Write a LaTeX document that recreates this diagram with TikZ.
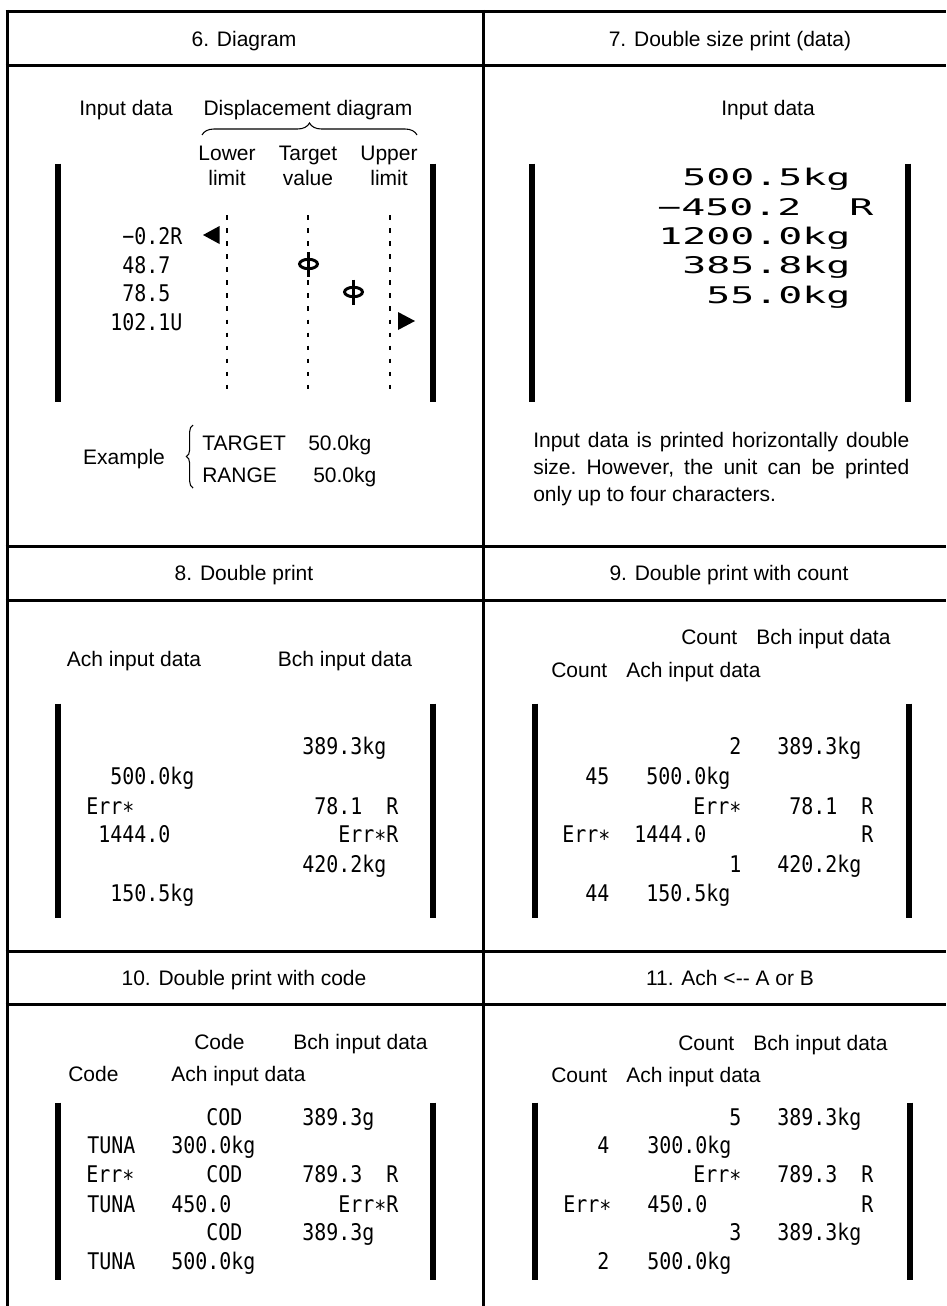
\documentclass[tikz,border=0pt]{standalone}
\usepackage{fontspec}
\setmainfont{Liberation Sans}
\newfontfamily\prtface[FakeStretch=0.87]{DejaVu Sans Mono}
\newfontfamily\wideface[FakeStretch=1.74]{DejaVu Sans Mono}
\newcommand\lblsize{\fontsize{15.75pt}{18.75pt}\selectfont}
\newcommand\notesize{\fontsize{15.75pt}{19.9pt}\selectfont\frenchspacing}
\newcommand\prtsize{\prtface\fontsize{17.2pt}{20pt}\selectfont}
\newcommand\widesize{\wideface\fontsize{17.2pt}{20pt}\selectfont}
\newcommand\cellgap{\hphantom{0}}
\usetikzlibrary{decorations.pathreplacing}

\begin{document}
\begin{tikzpicture}[
    x=0.75pt, y=-0.75pt,
    frame/.style={line width=2.25pt},
    bar/.style={line width=4.5pt},
    lbl/.style={font=\lblsize, inner sep=0pt, text height=11.3pt, text depth=0pt},
    note/.style={font=\notesize, inner sep=0pt, text width=282pt, align=justify},
    prt/.style={font=\prtsize, inner sep=0pt, text height=12.4pt, text depth=0pt, anchor=west},
    wide/.style={prt, font=\widesize},
    guide/.style={line width=1pt, dash pattern=on 3.4pt off 6.4pt},
    brc/.style={decorate, decoration={brace, amplitude=#1}, line width=0.8pt},
    phi/.style={line width=2.2pt}
]
    \useasboundingbox (0,0) rectangle (946,1306);

    % table frame
    \draw[frame] (5.5,11.5) -- (946,11.5);
    \draw[frame] (5.5,65.5) -- (946,65.5);
    \draw[frame] (5.5,546.5) -- (946,546.5);
    \draw[frame] (5.5,600) -- (946,600);
    \draw[frame] (5.5,951) -- (946,951);
    \draw[frame] (5.5,1004) -- (946,1004);
    \draw[frame] (7,10) -- (7,1306);
    \draw[frame] (483,10) -- (483,1306);

    % headers
    \node[lbl] (h6)  at (244,39)  {6. Diagram};
    \node[lbl] (h7)  at (730,39)  {7. Double size print (data)};
    \node[lbl] (h8)  at (244,573) {8. Double print};
    \node[lbl] (h9)  at (729,573) {9. Double print with count};
    \node[lbl] (h10) at (244,978) {10. Double print with code};
    \node[lbl] (h11) at (730,978) {11. Ach <-{}- A or B};

    % 6. Diagram
    \node[lbl] (in6)   at (126,108) {Input data};
    \node[lbl] (disp)  at (308,108) {Displacement diagram};
    \draw[brc=9pt] (202,135) -- (417,135);
    \node[lbl] (lowA)  at (227,153) {Lower};
    \node[lbl] (lowB)  at (227,178) {limit};
    \node[lbl] (tgtA)  at (308,153) {Target};
    \node[lbl] (tgtB)  at (308,178) {value};
    \node[lbl] (upA)   at (389,153) {Upper};
    \node[lbl] (upB)   at (389,178) {limit};
    \draw[bar] (58,163.5) -- (58,401.5);
    \draw[bar] (433,163.5) -- (433,401.5);
    \draw[guide] (227,215) -- (227,393);
    \draw[guide] (308,215) -- (308,393);
    \draw[guide] (390,215) -- (390,393);
    \node[prt] (d1) at (122,236) {−0.2R};
    \node[prt] (d2) at (122,265) {48.7};
    \node[prt] (d3) at (122,293) {78.5};
    \node[prt] (d4) at (110,322) {102.1U};
    \fill (203,235) -- (219.5,226) -- (219.5,244) -- cycle;
    \fill (415,321) -- (398,312) -- (398,330) -- cycle;
    \draw[phi] (308.5,264) ellipse [x radius=9, y radius=4.7];
    \draw[phi, line width=2.6pt] (308.5,252) -- (308.5,277);
    \draw[phi] (353.5,292) ellipse [x radius=9, y radius=4.7];
    \draw[phi, line width=2.6pt] (353.5,279.5) -- (353.5,304.5);
    \node[lbl] (ex) at (124,457) {Example};
    \draw[brc=5pt] (193,488) -- (193,425);
    \node[lbl, anchor=west] (tgt)  at (202,443) {TARGET};
    \node[lbl, anchor=west] (tgtv) at (308,443) {50.0kg};
    \node[lbl, anchor=west] (rng)  at (202,475) {RANGE};
    \node[lbl, anchor=west] (rngv) at (313,475) {50.0kg};

    % 7. Double size print (data)
    \node[lbl] (in7) at (768,108) {Input data};
    \draw[bar] (532,163.5) -- (532,401.5);
    \draw[bar] (908,163.5) -- (908,401.5);
    \node[wide] (w1) at (682,177) {500.5kg};
    \node[wide] (w2) at (657,207) {−450.2\cellgap\cellgap R};
    \node[wide] (w3) at (658,236) {1200.0kg};
    \node[wide] (w4) at (682,265) {385.8kg};
    \node[wide] (w5) at (706,295) {55.0kg};
    \node[note, anchor=north west] (txt7) at (533,432.5)
        {Input data is printed horizontally double\linebreak size. However, the unit can be printed\linebreak only up to four characters.};

    % 8. Double print
    \node[lbl] (ach8) at (134,659) {Ach input data};
    \node[lbl] (bch8) at (345,659) {Bch input data};
    \draw[bar] (58,703.5) -- (58,917.5);
    \draw[bar] (433,703.5) -- (433,917.5);
    \node[prt] (a8r1) at (302,746) {389.3kg};
    \node[prt] (a8r2) at (110,776) {500.0kg};
    \node[prt] (a8r3) at (86,806)  {Err∗};
    \node[prt] (b8r3) at (314,806) {78.1\cellgap\cellgap R};
    \node[prt] (a8r4) at (98,834)  {1444.0};
    \node[prt] (b8r4) at (338,834) {Err∗R};
    \node[prt] (b8r5) at (302,864) {420.2kg};
    \node[prt] (a8r6) at (110,893) {150.5kg};

    % 9. Double print with count
    \node[lbl, anchor=west] (cnt9b) at (681,637) {Count};
    \node[lbl, anchor=west] (bch9)  at (756,637) {Bch input data};
    \node[lbl, anchor=west] (cnt9a) at (551,670) {Count};
    \node[lbl, anchor=west] (ach9)  at (626,670) {Ach input data};
    \draw[bar] (535,703.5) -- (535,917.5);
    \draw[bar] (909,703.5) -- (909,917.5);
    \node[prt] (c9r1) at (729,746) {2};
    \node[prt] (b9r1) at (777,746) {389.3kg};
    \node[prt] (c9r2) at (585,776) {45};
    \node[prt] (a9r2) at (646,776) {500.0kg};
    \node[prt] (c9r3) at (693,806) {Err∗};
    \node[prt] (b9r3) at (789,806) {78.1\cellgap\cellgap R};
    \node[prt] (c9r4) at (562,834) {Err∗};
    \node[prt] (a9r4) at (634,834) {1444.0};
    \node[prt] (b9r4) at (861,834) {R};
    \node[prt] (c9r5) at (729,864) {1};
    \node[prt] (b9r5) at (777,864) {420.2kg};
    \node[prt] (c9r6) at (585,893) {44};
    \node[prt] (a9r6) at (646,893) {150.5kg};

    % 10. Double print with code
    \node[lbl, anchor=west] (cod10b) at (194,1042) {Code};
    \node[lbl, anchor=west] (bch10)  at (293,1042) {Bch input data};
    \node[lbl, anchor=west] (cod10a) at (68,1074)  {Code};
    \node[lbl, anchor=west] (ach10)  at (171,1074) {Ach input data};
    \draw[bar] (58,1102.5) -- (58,1280);
    \draw[bar] (433,1102.5) -- (433,1280);
    \node[prt] (k10r1) at (206,1117) {COD};
    \node[prt] (b10r1) at (302,1117) {389.3g};
    \node[prt] (k10r2) at (87,1145)  {TUNA};
    \node[prt] (a10r2) at (171,1145) {300.0kg};
    \node[prt] (k10r3) at (86,1174)  {Err∗};
    \node[prt] (j10r3) at (206,1174) {COD};
    \node[prt] (b10r3) at (302,1174) {789.3\cellgap\cellgap R};
    \node[prt] (k10r4) at (87,1204)  {TUNA};
    \node[prt] (a10r4) at (171,1204) {450.0};
    \node[prt] (b10r4) at (338,1204) {Err∗R};
    \node[prt] (k10r5) at (206,1232) {COD};
    \node[prt] (b10r5) at (302,1232) {389.3g};
    \node[prt] (k10r6) at (87,1261)  {TUNA};
    \node[prt] (a10r6) at (171,1261) {500.0kg};

    % 11. Ach <-- A or B
    \node[lbl, anchor=west] (cnt11b) at (678,1043) {Count};
    \node[lbl, anchor=west] (bch11)  at (753,1043) {Bch input data};
    \node[lbl, anchor=west] (cnt11a) at (551,1075) {Count};
    \node[lbl, anchor=west] (ach11)  at (626,1075) {Ach input data};
    \draw[bar] (535,1102.5) -- (535,1280);
    \draw[bar] (910,1102.5) -- (910,1280);
    \node[prt] (c11r1) at (729,1117) {5};
    \node[prt] (b11r1) at (777,1117) {389.3kg};
    \node[prt] (c11r2) at (597,1145) {4};
    \node[prt] (a11r2) at (647,1145) {300.0kg};
    \node[prt] (c11r3) at (693,1174) {Err∗};
    \node[prt] (b11r3) at (777,1174) {789.3\cellgap\cellgap R};
    \node[prt] (c11r4) at (563,1204) {Err∗};
    \node[prt] (a11r4) at (647,1204) {450.0};
    \node[prt] (b11r4) at (861,1204) {R};
    \node[prt] (c11r5) at (729,1232) {3};
    \node[prt] (b11r5) at (777,1232) {389.3kg};
    \node[prt] (c11r6) at (597,1261) {2};
    \node[prt] (a11r6) at (647,1261) {500.0kg};
\end{tikzpicture}
\end{document}
